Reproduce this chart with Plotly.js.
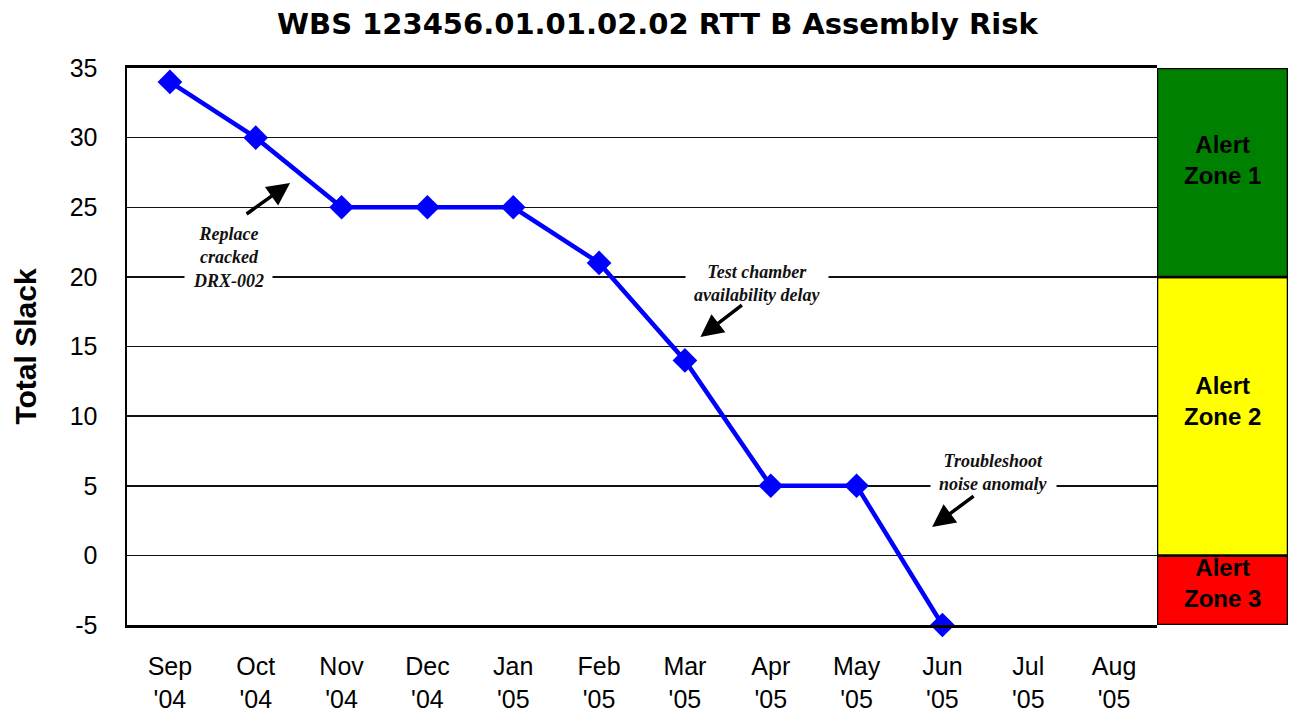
<!DOCTYPE html>
<html>
<head>
<meta charset="utf-8">
<script src="https://cdn.plot.ly/plotly-3.0.1.min.js"></script>
<style>html,body{margin:0;padding:0;background:#fff;}#chart{width:1289px;height:715px;}</style>
</head>
<body>
<div id="chart"></div>
<script>
// ---- data ----
const months = ["Sep<br>'04","Oct<br>'04","Nov<br>'04","Dec<br>'04","Jan<br>'05","Feb<br>'05","Mar<br>'05","Apr<br>'05","May<br>'05","Jun<br>'05","Jul<br>'05","Aug<br>'05"];
const totalSlack = [34, 30, 25, 25, 25, 21, 14, 5, 5, -5, null, null];
const zoneNames = ["Alert<br>Zone 3", "Alert<br>Zone 2", "Alert<br>Zone 1"];
const zoneLow = [-5, 0, 20];
const zoneHigh = [0, 20, 35];
const zoneColors = ["#FF0000", "#FFFF00", "#008000"];
const zoneTextShift = [7, 15, 12];
const yTicks = [-5, 0, 5, 10, 15, 20, 25, 30, 35];
const notes = [
  {text: "<b><i>Replace<br>cracked<br>DRX-002</i></b>", x: 0.68, y: 21.36, headX: 1.40, headY: 26.74, ax: -45, ay: 32},
  {text: "<b><i>Test chamber<br>availability delay</i></b>", x: 6.84, y: 19.52, headX: 6.18, headY: 15.68, ax: 43, ay: -33},
  {text: "<b><i>Troubleshoot<br>noise anomaly</i></b>", x: 9.59, y: 5.92, headX: 8.88, headY: 2.04, ax: 43, ay: -32}
];

const xIdx = months.map((_, i) => i);
const mainDomain = [0, 1030 / 1161];

const traces = [
  {
    type: 'scatter', mode: 'lines+markers',
    x: xIdx, y: totalSlack, xaxis: 'x', yaxis: 'y',
    line: {color: '#0000FF', width: 4.5},
    marker: {symbol: 'diamond', size: 19, color: '#0000FF'},
    connectgaps: false, hoverinfo: 'skip', showlegend: false, cliponaxis: false
  },
  {
    type: 'bar', x: zoneNames.map(() => 0), base: zoneLow,
    y: zoneHigh.map((h, i) => h - zoneLow[i]),
    xaxis: 'x2', yaxis: 'y', width: 1,
    marker: {color: zoneColors, line: {color: '#000', width: 2.5}},
    hoverinfo: 'skip', showlegend: false
  }
];

const annotations = [];
notes.forEach(n => {
  annotations.push({
    xref: 'x', yref: 'y', x: n.x, y: n.y, text: n.text, showarrow: false,
    font: {family: 'Liberation Serif, Times New Roman, serif', size: 18, color: '#111'},
    bgcolor: '#FFFFFF', borderpad: 8, align: 'center'
  });
  annotations.push({
    xref: 'x', yref: 'y', x: n.headX, y: n.headY, ax: n.ax, ay: n.ay, text: '',
    showarrow: true, arrowhead: 2, arrowsize: 1.3, arrowwidth: 3.5, arrowcolor: '#000', standoff: 0
  });
});
zoneNames.forEach((name, i) => {
  annotations.push({
    xref: 'x2', yref: 'y', x: 0, y: (zoneLow[i] + zoneHigh[i]) / 2, yshift: zoneTextShift[i],
    text: '<b>' + name + '</b>', showarrow: false, align: 'center',
    font: {family: 'Liberation Sans, Arial, sans-serif', size: 24, color: '#000'}
  });
});

const layout = {
  width: 1289, height: 715,
  margin: {l: 127, r: 1, t: 68, b: 90},
  paper_bgcolor: '#fff', plot_bgcolor: '#fff',
  showlegend: false,
  title: {
    text: '<b>WBS 123456.01.01.02.02 RTT B Assembly Risk</b>',
    font: {family: 'DejaVu Sans, Arial Black, sans-serif', size: 29, color: '#000'},
    xref: 'container', x: 0.51, xanchor: 'center', yref: 'container', y: 0.967, yanchor: 'middle'
  },
  font: {family: 'Liberation Sans, Arial, sans-serif', color: '#000'},
  xaxis: {
    domain: mainDomain, type: 'linear', range: [-0.5, 11.5],
    tickmode: 'array', tickvals: xIdx, ticktext: months,
    ticks: '', showgrid: false, zeroline: false,
    showline: true, linecolor: '#000', linewidth: 3, mirror: true,
    tickfont: {size: 25, color: '#000'}, ticklabelstandoff: 17
  },
  xaxis3: {
    domain: mainDomain, overlaying: 'x', anchor: 'free', position: (0 - yTicks[0]) / (yTicks[yTicks.length - 1] - yTicks[0]),
    range: [-0.5, 11.5], tickmode: 'array', tickvals: xIdx.slice(0, -1).map(i => i + 0.5),
    ticks: 'outside', ticklen: 7, tickwidth: 2, tickcolor: '#000',
    showticklabels: false, showgrid: false, zeroline: false, showline: false
  },
  xaxis2: {
    domain: [mainDomain[1], 1], range: [-0.5, 0.5], anchor: 'y',
    showticklabels: false, ticks: '', showgrid: false, zeroline: false, showline: false
  },
  yaxis: {
    range: [yTicks[0], yTicks[yTicks.length - 1]], tickmode: 'array', tickvals: yTicks,
    ticktext: yTicks.map(String),
    ticks: '', showgrid: true, gridcolor: '#111', gridwidth: 1.5,
    zeroline: true, zerolinecolor: '#111', zerolinewidth: 1.5,
    showline: true, linecolor: '#000', linewidth: 2.5,
    tickfont: {size: 25, color: '#000'}, ticklabelstandoff: 22,
    title: {text: '<b>Total Slack</b>', font: {size: 30, color: '#000'}, standoff: 24}
  },
  bargap: 0,
  annotations: annotations
};

Plotly.newPlot('chart', traces, layout, {displayModeBar: false, staticPlot: true});
</script>
</body>
</html>
